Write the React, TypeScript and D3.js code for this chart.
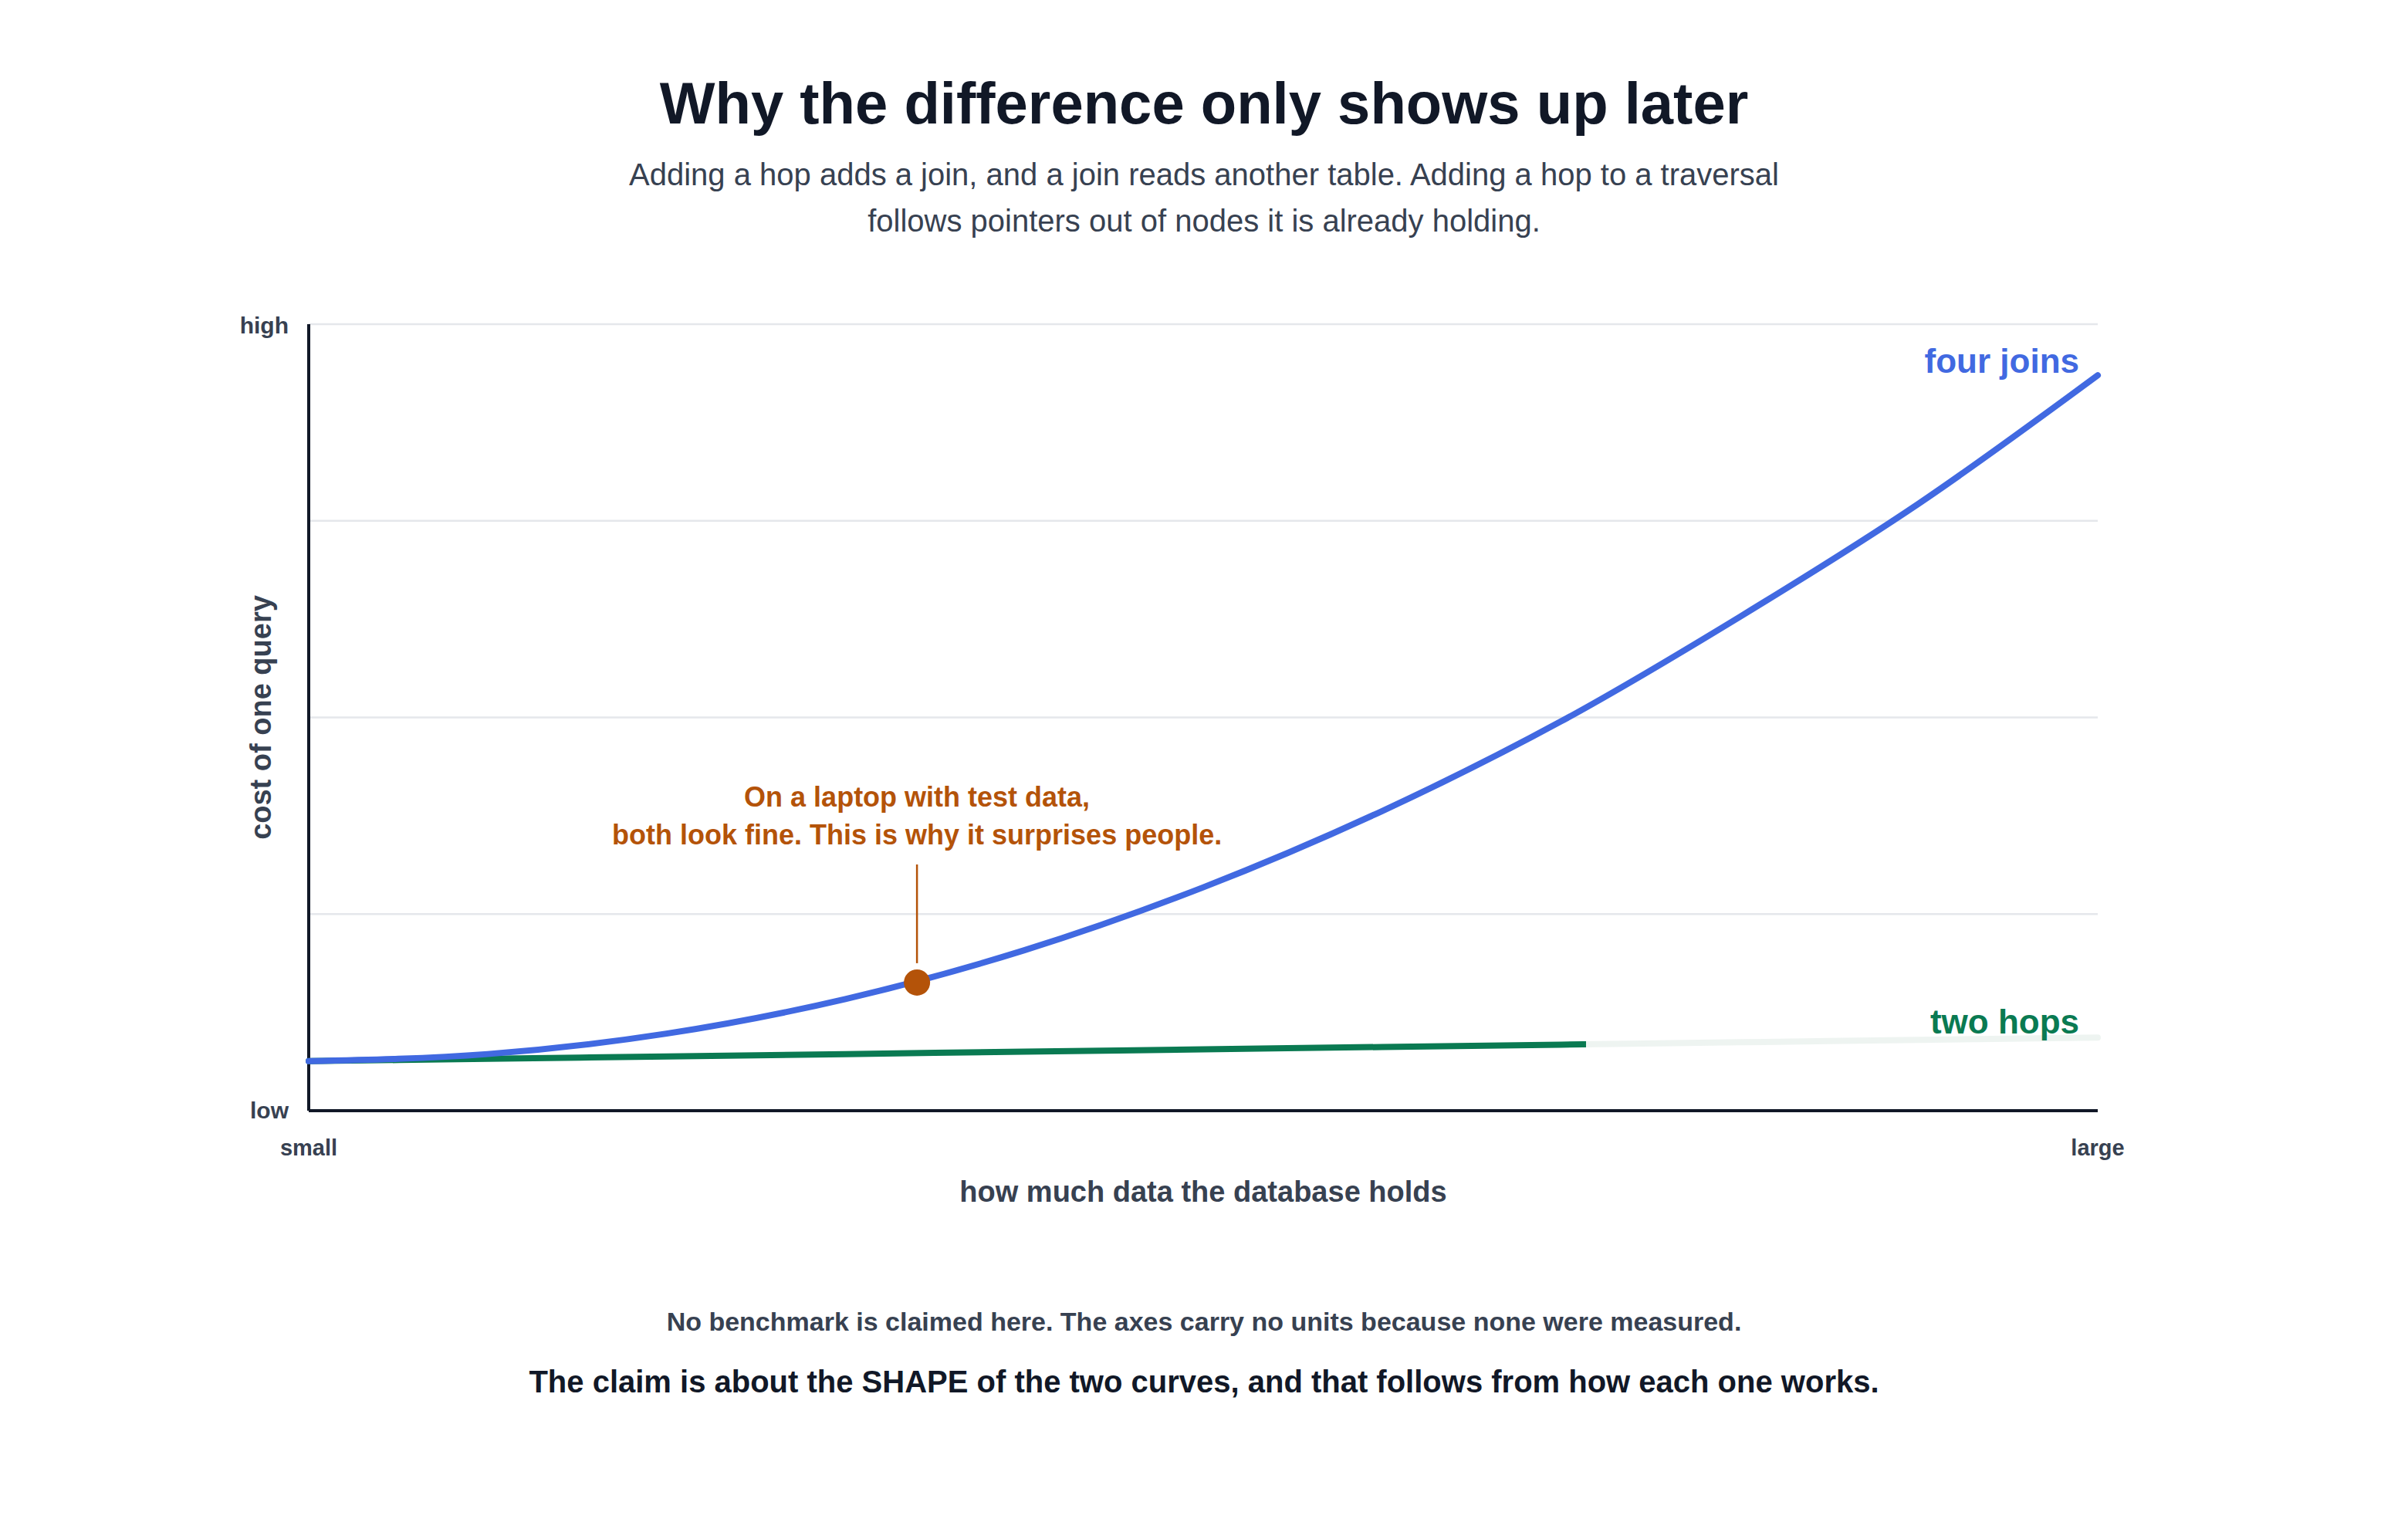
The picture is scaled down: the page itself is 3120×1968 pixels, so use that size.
import React from "react";
import * as d3 from "d3";

const W = 3120;
const H = 1968;

const titleText = "Why the difference only shows up later";
const subtitleLines = [
  "Adding a hop adds a join, and a join reads another table. Adding a hop to a traversal",
  "follows pointers out of nodes it is already holding.",
];
const footnoteText = "No benchmark is claimed here. The axes carry no units because none were measured.";
const claimText = "The claim is about the SHAPE of the two curves, and that follows from how each one works.";

const xLabels = ["small", "large"];
const yLabels = ["low", "high"];
const gridValues = [0, 0.25, 0.5, 0.75, 1];

const dataSize = [0, 0.1, 0.2, 0.3, 0.4, 0.5, 0.6, 0.7, 0.8, 0.9, 1.0];
const fourJoins = [0.063, 0.072, 0.098, 0.142, 0.204, 0.284, 0.381, 0.495, 0.628, 0.772, 0.935];
const twoHops = [0.063, 0.066, 0.069, 0.072, 0.075, 0.078, 0.081, 0.084, 0.087, 0.09, 0.093];

const annotationX = 0.34;
const annotationY = 0.163;
const annotationLines = ["On a laptop with test data,", "both look fine. This is why it surprises people."];

const FONT = "'Liberation Sans', Arial, Helvetica, sans-serif";
const BLUE = "#4169e1";
const GREEN = "#0a7a52";
const ORANGE = "#b45309";
const DARK = "#111827";
const GREY = "#374151";

export default function App() {
  const m = { left: 400, right: 2718, top: 420, bottom: 1439 };
  const x = d3.scaleLinear().domain([0, 1]).range([m.left, m.right]);
  const y = d3.scaleLinear().domain([0, 1]).range([m.bottom, m.top]);

  const line = d3
    .line<number>()
    .x((_, i) => x(dataSize[i]))
    .y((d) => y(d))
    .curve(d3.curveMonotoneX);

  const blueEnd = fourJoins[fourJoins.length - 1];
  const greenEnd = twoHops[twoHops.length - 1];
  const cx = 1560;

  return (
    <div style={{ position: "absolute", left: 0, top: 0 }}>
      <svg width={W} height={H} viewBox={`0 0 ${W} ${H}`} style={{ display: "block", background: "#fff" }} fontFamily={FONT}>
        <defs>
          <linearGradient id="greenFade" gradientUnits="userSpaceOnUse" x1={x(0)} x2={x(1)} y1={0} y2={0}>
            <stop offset="0" stopColor={GREEN} />
            <stop offset="0.714" stopColor={GREEN} />
            <stop offset="0.714" stopColor="#eef4f1" />
            <stop offset="1" stopColor="#eef4f1" />
          </linearGradient>
        </defs>
        <rect width={W} height={H} fill="#fff" />
        <text x={cx} y={160} textAnchor="middle" fontSize={76} fontWeight={700} fill={DARK}>
          {titleText}
        </text>
        {subtitleLines.map((t, i) => (
          <text key={i} x={cx} y={240 + i * 60} textAnchor="middle" fontSize={40} fill={GREY}>
            {t}
          </text>
        ))}

        {gridValues.slice(1).map((g) => (
          <line key={g} x1={x(0)} x2={x(1)} y1={y(g)} y2={y(g)} stroke="#e5e7eb" strokeWidth={2.5} />
        ))}

        <line x1={x(0)} x2={x(0)} y1={y(1)} y2={y(0)} stroke={DARK} strokeWidth={4} />
        <line x1={x(0)} x2={x(1)} y1={y(0)} y2={y(0)} stroke={DARK} strokeWidth={4} />

        <text x={374} y={y(1) + 12} textAnchor="end" fontSize={30} fontWeight={700} fill={GREY}>
          {yLabels[1]}
        </text>
        <text x={374} y={y(0) + 10} textAnchor="end" fontSize={30} fontWeight={700} fill={GREY}>
          {yLabels[0]}
        </text>
        <text x={x(0)} y={y(0) + 58} textAnchor="middle" fontSize={29} fontWeight={700} fill={GREY}>
          {xLabels[0]}
        </text>
        <text x={x(1)} y={y(0) + 58} textAnchor="middle" fontSize={29} fontWeight={700} fill={GREY}>
          {xLabels[1]}
        </text>

        <text
          transform={`translate(351, ${(y(0) + y(1)) / 2}) rotate(-90)`}
          textAnchor="middle"
          fontSize={38}
          fontWeight={700}
          fill={GREY}
        >
          cost of one query
        </text>
        <text x={(x(0) + x(1)) / 2} y={1557} textAnchor="middle" fontSize={38} fontWeight={700} fill={GREY}>
          how much data the database holds
        </text>

        <path d={line(twoHops) || ""} fill="none" stroke="url(#greenFade)" strokeWidth={8} strokeLinecap="round" />
        <path d={line(fourJoins) || ""} fill="none" stroke={BLUE} strokeWidth={8} strokeLinecap="round" />

        <text x={x(1) - 24} y={y(blueEnd) - 3} textAnchor="end" fontSize={44} fontWeight={700} fill={BLUE}>
          four joins
        </text>
        <text x={x(1) - 24} y={y(greenEnd) - 5} textAnchor="end" fontSize={44} fontWeight={700} fill={GREEN}>
          two hops
        </text>

        <line
          x1={x(annotationX)}
          x2={x(annotationX)}
          y1={1120}
          y2={y(annotationY) - 25}
          stroke={ORANGE}
          strokeWidth={2.5}
        />
        <circle cx={x(annotationX)} cy={y(annotationY)} r={17} fill={ORANGE} />
        {annotationLines.map((t, i) => (
          <text key={i} x={x(annotationX)} y={1045 + i * 49} textAnchor="middle" fontSize={36} fontWeight={700} fill={ORANGE}>
            {t}
          </text>
        ))}

        <text x={cx} y={1724} textAnchor="middle" fontSize={34} fontWeight={700} fill={GREY}>
          {footnoteText}
        </text>
        <text x={cx} y={1804} textAnchor="middle" fontSize={40} fontWeight={700} fill={DARK}>
          {claimText}
        </text>
      </svg>
    </div>
  );
}
